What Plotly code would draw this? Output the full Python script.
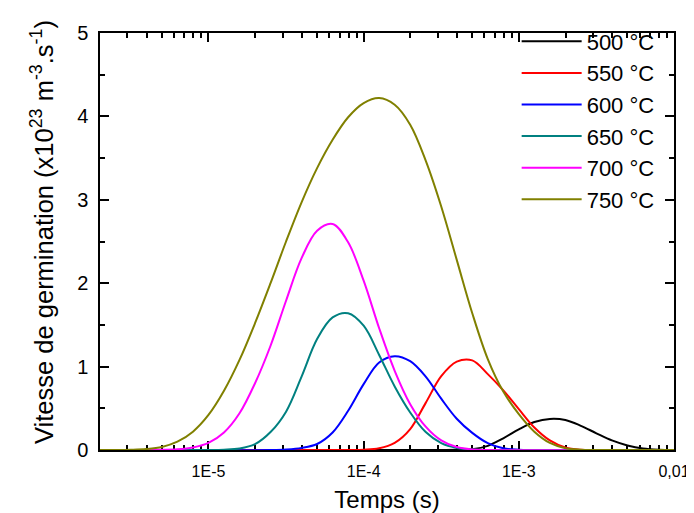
import plotly.graph_objects as go

# Series: log10(time in s) and nucleation rate (x1e23 m^-3 s^-1)
labels = ["500 °C", "550 °C", "600 °C", "650 °C", "700 °C", "750 °C"]
colors = ["#000000", "#FF0000", "#0000FF", "#008080", "#FF00FF", "#808000"]

logt_500 = [-5.699, -3.5, -3.4, -3.3, -3.2, -3.1, -3.0, -2.9, -2.8, -2.7, -2.6, -2.5, -2.4, -2.3, -2.2, -2.1, -2.0]
rate_500 = [0, 0, 0.002, 0.010, 0.050, 0.140, 0.248, 0.335, 0.373, 0.360, 0.290, 0.200, 0.115, 0.055, 0.018, 0.003, 0]

logt_550 = [-5.699, -4.1, -4.0, -3.9, -3.8, -3.7, -3.6, -3.5, -3.4, -3.3, -3.2, -3.1, -3.0, -2.9, -2.8, -2.7, -2.6, -2.5, -2.0]
rate_550 = [0, 0, 0.003, 0.020, 0.085, 0.250, 0.565, 0.885, 1.060, 1.075, 0.910, 0.715, 0.490, 0.270, 0.115, 0.030, 0.003, 0, 0]

logt_600 = [-5.699, -4.6, -4.5, -4.4, -4.3, -4.2, -4.1, -4.0, -3.9, -3.8, -3.7, -3.6, -3.5, -3.4, -3.3, -3.2, -3.1, -3.0, -2.9, -2.0]
rate_600 = [0, 0, 0.006, 0.025, 0.072, 0.210, 0.470, 0.790, 1.050, 1.125, 1.065, 0.880, 0.615, 0.375, 0.205, 0.082, 0.020, 0.003, 0, 0]

logt_650 = [-5.699, -5.0, -4.9, -4.8, -4.7, -4.6, -4.5, -4.4, -4.3, -4.2, -4.1, -4.0, -3.9, -3.8, -3.7, -3.6, -3.5, -3.4, -3.3, -3.2, -2.0]
rate_650 = [0, 0, 0.004, 0.018, 0.070, 0.215, 0.460, 0.880, 1.330, 1.590, 1.640, 1.490, 1.140, 0.762, 0.450, 0.215, 0.082, 0.024, 0.005, 0, 0]

logt_700 = [-5.699, -5.4, -5.3, -5.2, -5.1, -5.0, -4.9, -4.8, -4.7, -4.6, -4.5, -4.4, -4.3, -4.2, -4.1, -4.0, -3.9, -3.8,
            -3.7, -3.6, -3.5, -3.4, -3.3, -3.2, -2.0]
rate_700 = [0, 0, 0.002, 0.008, 0.030, 0.085, 0.210, 0.440, 0.800, 1.250, 1.790, 2.300, 2.630, 2.710, 2.490, 2.030, 1.460, 0.950,
            0.550, 0.280, 0.115, 0.035, 0.006, 0, 0]

logt_750 = [-5.699, -5.6, -5.5, -5.4, -5.3, -5.2, -5.1, -5.0, -4.9, -4.8, -4.7, -4.6, -4.5, -4.4, -4.3, -4.2, -4.1, -4.0, -3.9,
            -3.8, -3.7, -3.6, -3.5, -3.4, -3.3, -3.2, -3.1, -3.0, -2.9, -2.8, -2.7, -2.6, -2.5, -2.0]
rate_750 = [0, 0, 0.003, 0.012, 0.037, 0.100, 0.220, 0.420, 0.710, 1.080, 1.520, 2.000, 2.500, 2.970, 3.380, 3.720, 3.990, 4.160, 4.220,
            4.140, 3.900, 3.470, 2.920, 2.280, 1.640, 1.090, 0.700, 0.430, 0.220, 0.085, 0.022, 0.004, 0, 0]

series_logt = [logt_500, logt_550, logt_600, logt_650, logt_700, logt_750]
series_rate = [rate_500, rate_550, rate_600, rate_650, rate_700, rate_750]

x_tick_vals = [1e-5, 1e-4, 1e-3, 1e-2]
x_tick_text = ["1E-5", "1E-4", "1E-3", "0,01"]
x_minor_vals = [m * 10.0 ** e for e in (-6, -5, -4, -3) for m in range(2, 10)]
y_tick_vals = [0, 1, 2, 3, 4, 5]

y_title = "Vitesse de germination (x10<sup>23</sup> m<sup>-3</sup>.s<sup>-1</sup>)"
x_title = "Temps (s)"

FONT = "Arial, Liberation Sans, sans-serif"

fig = go.Figure()
for lab, col, lt, r in zip(labels, colors, series_logt, series_rate):
    fig.add_trace(go.Scatter(
        x=[10 ** v for v in lt], y=r, mode="lines", name=lab,
        line=dict(color=col, width=2, shape="spline", smoothing=1.0),
    ))

axis_common = dict(
    showline=True, linecolor="black", linewidth=1.5, mirror="allticks",
    ticks="inside", ticklen=9, tickwidth=1.5, tickcolor="black",
    showgrid=False, zeroline=False, layer="below traces",
)

fig.update_layout(
    width=694, height=513,
    margin=dict(l=92, r=16, t=15, b=67),
    paper_bgcolor="white", plot_bgcolor="white",
    font=dict(family=FONT, color="black"),
    xaxis=dict(
        type="log", range=[-5.69897, -2.0],
        tickmode="array", tickvals=x_tick_vals, ticktext=x_tick_text,
        tickfont=dict(size=16), ticklabelstandoff=6,
        minor=dict(tickmode="array", tickvals=x_minor_vals, ticks="inside",
                   ticklen=5, tickwidth=1.5, tickcolor="black", showgrid=False),
        title=dict(text=x_title, font=dict(size=24), standoff=12),
        **axis_common,
    ),
    yaxis=dict(
        range=[0, 5], tickmode="array", tickvals=y_tick_vals,
        tickfont=dict(size=20), ticklabelstandoff=6,
        minor=dict(dtick=0.5, ticks="inside", ticklen=5, tickwidth=1.5,
                   tickcolor="black", showgrid=False),
        **axis_common,
    ),
    legend=dict(
        x=0.975, xanchor="right", y=1.03, yanchor="top",
        bgcolor="rgba(0,0,0,0)", font=dict(size=22), itemwidth=60,
        tracegroupgap=0,
    ),
    showlegend=True,
    annotations=[dict(
        text=y_title, textangle=-90, showarrow=False,
        xref="paper", yref="paper", x=-0.1, y=0.522,
        xanchor="center", yanchor="middle", font=dict(size=25.5),
    )],
)

fig.write_html("out.html")
